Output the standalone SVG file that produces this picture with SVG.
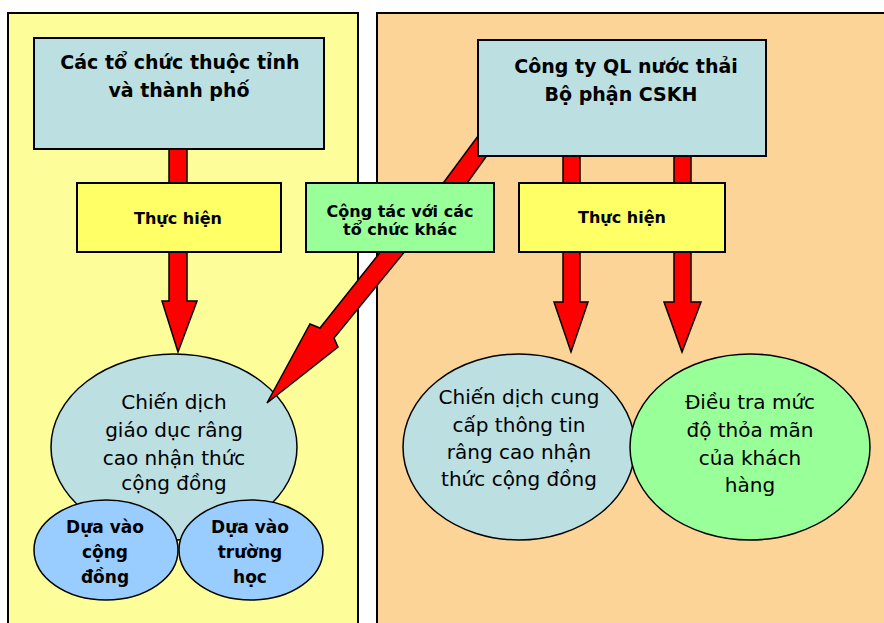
<svg xmlns="http://www.w3.org/2000/svg" width="884" height="623" viewBox="0 0 884 623">
<style>
.panel{stroke:#000;stroke-width:2}
.box{stroke:#000;stroke-width:2}
.blue{fill:#BCDFE1}
.ell{stroke:#000;stroke-width:1.5}
.arrow{fill:#FF0000;stroke:#000;stroke-width:1.5;stroke-linejoin:miter}
.hb{font-family:"DejaVu Sans","Liberation Sans",sans-serif;font-weight:bold;font-size:19px;fill:#000;text-anchor:middle}
.lb{font-family:"DejaVu Sans","Liberation Sans",sans-serif;font-weight:bold;font-size:16px;fill:#000;text-anchor:middle}
.sb{font-family:"DejaVu Sans","Liberation Sans",sans-serif;font-weight:bold;font-size:17px;fill:#000;text-anchor:middle}
.et{font-family:"DejaVu Sans","Liberation Sans",sans-serif;font-size:20px;fill:#000;text-anchor:middle}
</style>
<rect x="0" y="0" width="884" height="623" fill="#fff"/>
<rect class="panel" x="8" y="13" width="350" height="630" fill="#FDFD99"/>
<rect class="panel" x="377" y="13" width="530" height="630" fill="#FDD497"/>

<g id="campaign-education">
<ellipse class="ell blue" cx="174" cy="447" rx="123" ry="93"/>
<text class="et" x="174" y="409">Chiến dịch</text>
<text class="et" x="174" y="437">giáo dục râng</text>
<text class="et" x="174" y="465">cao nhận thức</text>
<text class="et" x="174" y="490">cộng đồng</text>
</g>
<g id="community-based">
<ellipse class="ell" cx="106" cy="550" rx="72" ry="50" fill="#99CCFF"/>
<text class="sb" x="105" y="533">Dựa vào</text>
<text class="sb" x="105" y="558">cộng</text>
<text class="sb" x="105" y="583">đồng</text>
</g>
<g id="school-based">
<ellipse class="ell" cx="251" cy="550" rx="72" ry="50" fill="#99CCFF"/>
<text class="sb" x="250" y="533">Dựa vào</text>
<text class="sb" x="250" y="558">trường</text>
<text class="sb" x="250" y="583">học</text>
</g>
<g id="campaign-info">
<ellipse class="ell blue" cx="519" cy="447" rx="116" ry="93"/>
<text class="et" x="519" y="404">Chiến dịch cung</text>
<text class="et" x="519" y="432">cấp thông tin</text>
<text class="et" x="519" y="459">râng cao nhận</text>
<text class="et" x="519" y="486">thức cộng đồng</text>
</g>
<g id="survey">
<ellipse class="ell" cx="750" cy="447" rx="120" ry="93" fill="#99FF99"/>
<text class="et" x="750" y="409">Điều tra mức</text>
<text class="et" x="750" y="437">độ thỏa mãn</text>
<text class="et" x="750" y="465">của khách</text>
<text class="et" x="750" y="492">hàng</text>
</g>

<g id="connectors">
<polygon class="arrow" points="169,145 187,145 187,301 197,301 178,352 162,301 169,301"/>
<polygon class="arrow" points="563,150 580,150 580,302 588,302 571,352 554,302 563,302"/>
<polygon class="arrow" points="674,150 691,150 691,302 701,302 682,352 664,302 674,302"/>
<polygon class="arrow" points="481,132 493,147 465,186 441,186"/>
<polygon class="arrow" points="382,250 406,250 334,338 338,347 267,403 310,324 320,328"/>
</g>

<g id="org-province">
<rect class="box blue" x="34" y="38" width="290" height="111"/>
<text class="hb" x="180" y="69">Các tổ chức thuộc tỉnh</text>
<text class="hb" x="179" y="97">và thành phố</text>
</g>
<g id="company">
<rect class="box blue" x="478" y="40" width="288" height="116"/>
<text class="hb" x="626" y="73">Công ty QL nước thải</text>
<text class="hb" x="621" y="101">Bộ phận CSKH</text>
</g>
<g id="implement-left">
<rect class="box" x="77" y="183" width="204" height="69" fill="#FFFF66"/>
<text class="lb" x="178" y="224">Thực hiện</text>
</g>
<g id="cooperate">
<rect class="box" x="306" y="183" width="188" height="69" fill="#99FF99"/>
<text class="lb" x="400" y="217">Cộng tác với các</text>
<text class="lb" x="400" y="235">tổ chức khác</text>
</g>
<g id="implement-right">
<rect class="box" x="519" y="183" width="206" height="69" fill="#FFFF66"/>
<text class="lb" x="622" y="223">Thực hiện</text>
</g>
</svg>
